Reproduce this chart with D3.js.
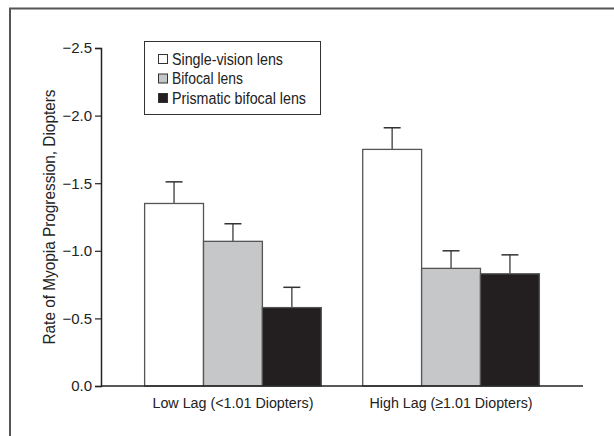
<!DOCTYPE html>
<html>
<head>
<meta charset="utf-8">
<script src="https://cdn.jsdelivr.net/npm/d3@7"></script>
<style>
  body { margin: 0; background: #fff; }
  text { font-family: "Liberation Sans Narrow", "Arial Narrow", "Liberation Sans", sans-serif; fill: #222; }
</style>
</head>
<body>
<script>
// chart data
var groups = ["Low Lag (<1.01 Diopters)", "High Lag (\u22651.01 Diopters)"];
var seriesNames = ["Single-vision lens", "Bifocal lens", "Prismatic bifocal lens"];
var singleVision = [-1.35, -1.75];
var singleVisionSE = [0.16, 0.16];
var bifocal = [-1.07, -0.87];
var bifocalSE = [0.13, 0.13];
var prismatic = [-0.58, -0.83];
var prismaticSE = [0.15, 0.14];
var yTicks = [0, -0.5, -1.0, -1.5, -2.0, -2.5];

var colors = ["#ffffff", "#c6c7c9", "#231f20"];

window.onload = drawChart;

function drawChart(){

	var width = 614,
		height = 436;

	var svg = d3.select("body")
		.append("svg")
		.attr("width", width)
		.attr("height", height);

	// partial frame (top and left edges)
	svg.append("path")
		.attr("d", "M10,436V8.5H614")
		.attr("fill", "none")
		.attr("stroke", "#555")
		.attr("stroke-width", 2);

	var x0 = d3.scaleBand()
		.domain(groups)
		.range([101, 583])
		.paddingInner(0.19)
		.paddingOuter(0.2);

	var x1 = d3.scaleBand()
		.domain(seriesNames)
		.range([0, x0.bandwidth()]);

	var y = d3.scaleLinear()
		.domain([0, -2.5])
		.range([386, 48]);

	// build rows for the bars
	var values = [singleVision, bifocal, prismatic];
	var errs = [singleVisionSE, bifocalSE, prismaticSE];
	var rows = [];
	groups.forEach(function(g, gi){
		seriesNames.forEach(function(s, si){
			rows.push({group: g, series: s, si: si, value: values[si][gi], se: errs[si][gi]});
		});
	});

	// error bars (drawn first so bar tops cover stem start)
	var eb = svg.selectAll(".err")
		.data(rows)
		.enter()
		.append("g")
		.attr("class", "err");

	eb.append("line")
		.attr("x1", function(d){ return x0(d.group) + x1(d.series) + x1.bandwidth() / 2; })
		.attr("x2", function(d){ return x0(d.group) + x1(d.series) + x1.bandwidth() / 2; })
		.attr("y1", function(d){ return y(d.value); })
		.attr("y2", function(d){ return y(d.value - d.se); })
		.attr("stroke", "#555")
		.attr("stroke-width", 1.5);

	eb.append("line")
		.attr("x1", function(d){ return x0(d.group) + x1(d.series) + x1.bandwidth() / 2 - 8.5; })
		.attr("x2", function(d){ return x0(d.group) + x1(d.series) + x1.bandwidth() / 2 + 8.5; })
		.attr("y1", function(d){ return y(d.value - d.se); })
		.attr("y2", function(d){ return y(d.value - d.se); })
		.attr("stroke", "#333")
		.attr("stroke-width", 1.5);

	// bars
	svg.selectAll(".bar")
		.data(rows)
		.enter()
		.append("rect")
		.attr("class", "bar")
		.attr("x", function(d){ return x0(d.group) + x1(d.series); })
		.attr("y", function(d){ return y(d.value); })
		.attr("width", x1.bandwidth())
		.attr("height", function(d){ return y(0) - y(d.value); })
		.attr("fill", function(d){ return colors[d.si]; })
		.attr("stroke", "#555")
		.attr("stroke-width", 1.3);

	// y axis
	var yAxis = svg.append("g")
		.attr("transform", "translate(101,0)")
		.call(d3.axisLeft(y).tickValues(yTicks).tickFormat(d3.format(".1f")).tickSizeOuter(0).tickSize(6).tickPadding(3));
	yAxis.select(".domain").attr("stroke", "#222").attr("stroke-width", 1.5);
	yAxis.selectAll(".tick line").attr("stroke", "#222").attr("stroke-width", 1.2);
	yAxis.selectAll(".tick text")
		.attr("font-size", 15)
		.attr("fill", "#222");

	// x axis baseline
	svg.append("line")
		.attr("x1", 101)
		.attr("x2", 583)
		.attr("y1", y(0))
		.attr("y2", y(0))
		.attr("stroke", "#222")
		.attr("stroke-width", 1.5);

	// group labels, centred under each group
	var labelLen = [161, 163];
	svg.selectAll(".glabel")
		.data(groups)
		.enter()
		.append("text")
		.attr("class", "glabel")
		.attr("x", function(d){ return x0(d) + x0.bandwidth() / 2; })
		.attr("y", 408)
		.attr("text-anchor", "middle")
		.attr("font-size", 15.5)
		.attr("textLength", function(d, i){ return labelLen[i]; })
		.attr("lengthAdjust", "spacingAndGlyphs")
		.text(function(d){ return d; });

	// y axis title
	svg.append("text")
		.attr("transform", "translate(55,217) rotate(-90)")
		.attr("text-anchor", "middle")
		.attr("font-size", 16)
		.attr("textLength", 255)
		.attr("lengthAdjust", "spacingAndGlyphs")
		.text("Rate of Myopia Progression, Diopters");

	// legend
	var legend = svg.append("g")
		.attr("transform", "translate(144,41)");

	legend.append("rect")
		.attr("x", 0.5)
		.attr("y", 0.5)
		.attr("width", 176)
		.attr("height", 73)
		.attr("fill", "#fff")
		.attr("stroke", "#333")
		.attr("stroke-width", 1);

	var legendLen = [111, 71, 134];
	var items = legend.selectAll(".item")
		.data(seriesNames)
		.enter()
		.append("g")
		.attr("class", "item")
		.attr("transform", function(d, i){ return "translate(14," + (18 + i * 19.5) + ")"; });

	items.append("rect")
		.attr("x", 0.5)
		.attr("y", -4.5)
		.attr("width", 9)
		.attr("height", 9)
		.attr("fill", function(d, i){ return colors[i]; })
		.attr("stroke", "#333")
		.attr("stroke-width", 1);

	items.append("text")
		.attr("x", 14)
		.attr("y", 5.5)
		.attr("font-size", 16)
		.attr("textLength", function(d, i){ return legendLen[i]; })
		.attr("lengthAdjust", "spacingAndGlyphs")
		.text(function(d){ return d; });
}
</script>
</body>
</html>
